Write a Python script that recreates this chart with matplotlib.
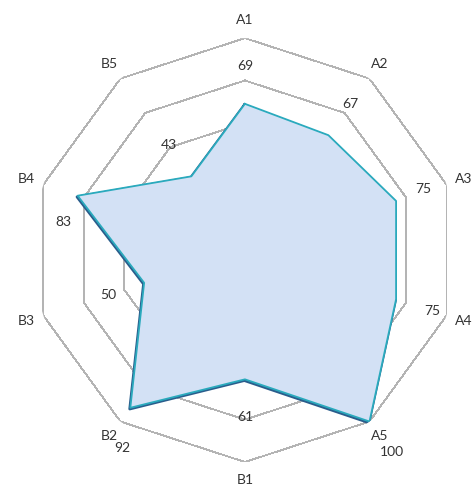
import numpy as np
import matplotlib
matplotlib.use("Agg")
import matplotlib.pyplot as plt
from matplotlib.transforms import offset_copy

# Scores per criterion, clockwise from the top
categories = ["A1", "A2", "A3", "A4", "A5", "B1", "B2", "B3", "B4", "B5"]
values = [69, 67, 75, 75, 100, 61, 92, 50, 83, 43]
ring_levels = [20, 40, 60, 80, 100]

plt.rcParams["font.family"] = ["Lato", "DejaVu Sans"]

fig = plt.figure(figsize=(4.72, 4.94), dpi=100)
ax = fig.add_axes([0.0699, 0.0648, 0.898, 0.858], projection="polar")
ax.set_theta_zero_location("N")
ax.set_theta_direction(-1)
ax.set_ylim(0, 100)
ax.grid(False)
ax.spines["polar"].set_visible(False)
ax.set_xticks([])
ax.set_yticks([])
ax.patch.set_alpha(0)

n = len(categories)
theta = np.arange(n) * 2 * np.pi / n
theta_c = np.append(theta, theta[0])

# decagon grid rings (thin, hard-edged)
for lvl in ring_levels:
    ax.plot(theta_c, [lvl] * (n + 1), color="#b4b4b4", lw=0.6,
            antialiased=False, zorder=1)

vals_c = np.append(values, values[0])

# bevel-like shadow under the outline
shadow = offset_copy(ax.transData, fig=fig, x=-0.6, y=-1.2, units="dots")
ax.plot(theta_c, vals_c, color="#2a5d8c", lw=2.0, transform=shadow, zorder=2)
ax.fill(theta_c, vals_c, color="#d3e1f5", zorder=3, lw=0)
ax.plot(theta_c, vals_c, color="#2aaabd", lw=1.3, zorder=4)

# category labels
for t, name in zip(theta, categories):
    ax.text(t, 108.5, name, ha="center", va="center", fontsize=10,
            color="#333333", zorder=5)

# value labels, nudged in pixels where needed
nudges = {"A3": (-9, 0), "B2": (14, -9), "B4": (22, -38)}
for t, name, v in zip(theta, categories, values):
    dx, dy = nudges.get(name, (0, 0))
    ax.annotate(str(v), xy=(t, v + 18), xytext=(dx, dy),
                textcoords="offset pixels", ha="center", va="center",
                fontsize=10, color="#333333", zorder=5, annotation_clip=False)

fig.savefig("out.png", dpi=100)
